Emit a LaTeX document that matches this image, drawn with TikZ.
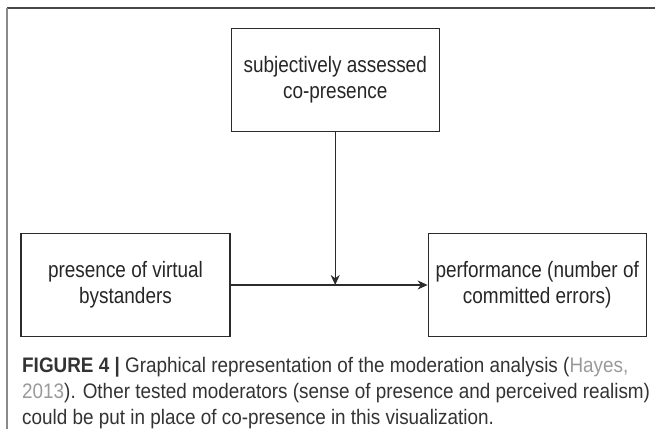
\documentclass[tikz,border=0pt]{standalone}
\usepackage{fontspec}
\setmainfont{Liberation Sans}
\newfontfamily\capfont[FakeStretch=0.9]{Liberation Sans}
\newfontfamily\boxfont[FakeStretch=0.85]{Liberation Sans}
\usepackage{xcolor}
\usetikzlibrary{positioning,arrows.meta}
\definecolor{linegray}{HTML}{2B2B2B}
\definecolor{framedark}{HTML}{474747}
\definecolor{framegray}{HTML}{8A8A8A}
\definecolor{captext}{HTML}{333333}
\definecolor{linkgray}{HTML}{9A9A9A}
\tikzstyle{block} = [draw=linegray, line width=1.2pt, minimum width=209pt, minimum height=103pt, inner sep=0pt, align=center, text=black!85, font=\boxfont\fontsize{22.3}{26}\selectfont]
\tikzstyle{arrow} = [line width=1.2pt, draw=linegray, ->, >={Stealth[length=10pt,width=9pt]}]

\begin{document}
\begin{tikzpicture}[x=1pt, y=-1pt]
    \useasboundingbox (0,0) rectangle (655,429);
    \draw[framedark, line width=1.5pt] (7,8) -- (655,8);
    \draw[framegray, line width=2pt] (7,8) -- (7,429);

    \node[block] (byst) at (125.5,285) {presence of virtual\\bystanders};
    \node[block, minimum width=218pt, right=197pt of byst] (perf) {performance (number of\\committed errors)};
    \node[block, minimum width=208pt, above right=101pt and 0pt of byst] (cop) {subjectively assessed\\co-presence};
    \coordinate (join) at (cop.south |- byst.east);

    \draw[arrow] (byst) -- (perf);
    \draw[arrow] (cop) -- (join);

    \node[anchor=north west, align=left, inner sep=0pt, text=captext, font=\capfont\fontsize{21}{26}\selectfont] (cap) at (22,357)
        {\textbf{FIGURE 4 |} Graphical representation of the moderation analysis (\textcolor{linkgray}{Hayes,}\\
         \textcolor{linkgray}{2013}). Other tested moderators (sense of presence and perceived realism)\\
         could be put in place of co-presence in this visualization.};
\end{tikzpicture}
\end{document}
